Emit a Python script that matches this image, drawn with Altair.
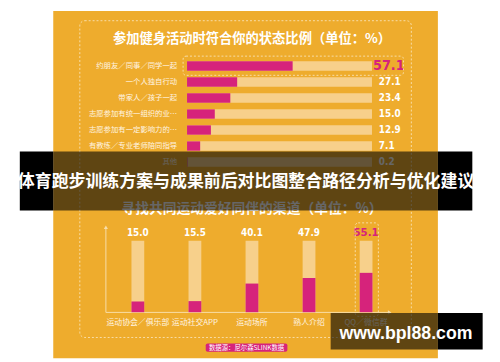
import altair as alt
import pandas as pd

# ---------------- data ----------------
status_cats = ["约朋友／同事／同学一起", "一个人独自行动", "带家人／孩子一起",
               "志愿参加有统一组织的业…", "志愿参加有一定影响力的…",
               "有教练／专业老师陪同指导", "其他"]
status_vals = [57.1, 27.1, 23.4, 15.0, 12.9, 7.1, 0.2]

channel_cats = ["运动协会／俱乐部", "运动社交APP", "运动场所", "熟人介绍", "QQ／微信群"]
channel_vals = [15.0, 15.5, 40.1, 47.9, 55.1]

title_top = "参加健身活动时符合你的状态比例（单位：%）"
title_bottom = "寻找共同运动爱好同伴的渠道（单位：%）"
banner = "体育跑步训练方案与成果前后对比图整合路径分析与优化建议"
watermark = "www.bpl88.com"
source = "数据源：尼尔森SLINK数据"

# ---------------- style ----------------
ORANGE = "#EEAC2D"
TRACK = "#F7D08B"
MAGENTA = "#D6237B"
CREAM = "#F8DDA8"
LABEL = "#FFF4E2"
CJK = "Noto Sans CJK SC"
NUM = "'DejaVu Sans Condensed', 'Roboto', sans-serif"

OFF = 8
def P(v):
    return v - OFF

status_df = pd.DataFrame({"cat": status_cats, "val": status_vals})
channel_df = pd.DataFrame({"cat": channel_cats, "val": channel_vals})
deco = alt.Chart(pd.DataFrame({"d": [0]}))


def rect(x1, x2, y1, y2, **kw):
    return deco.mark_rect(**kw).encode(
        x=alt.value(P(x1)), x2=alt.value(P(x2)),
        y=alt.value(P(y1)), y2=alt.value(P(y2)))


def label(txt, x, y, **kw):
    return deco.mark_text(text=txt, **kw).encode(x=alt.value(P(x)), y=alt.value(P(y)))


# ---------------- background ----------------
panel = deco.mark_rect(color=ORANGE).encode(
    x=alt.value(P(54)), x2=alt.value(P(445)), y=alt.value(0), y2=alt.value(P(361)))
outer_box = rect(81, 418, 18, 340, fillOpacity=0, stroke=CREAM, strokeDash=[2, 2],
                 strokeWidth=1, cornerRadius=5)
t_top = label(title_top, 256, 37, font=CJK, fontSize=13.5, fontWeight="bold",
              color="white", align="center", baseline="middle")

# ---------------- top chart (horizontal bars) ----------------
xs = alt.Scale(domain=[0, 100], range=[P(190), P(378)], nice=False, zero=True)
ys = alt.Scale(domain=status_cats, range=[P(55.9), P(169.8)], paddingInner=0, paddingOuter=0)
base_t = alt.Chart(status_df)
yenc = alt.Y("cat:N", scale=ys, sort=status_cats, axis=None)

t_track = base_t.mark_bar(height=9.5, color=TRACK).transform_calculate(full="100").encode(
    x=alt.X("full:Q", scale=xs, axis=None), y=yenc)
t_bar = base_t.mark_bar(height=9.5, color=MAGENTA).encode(
    x=alt.X("val:Q", scale=xs, axis=None), y=yenc)
t_cat = base_t.mark_text(align="right", baseline="middle", font=CJK, fontSize=7.5,
                         color=LABEL).encode(x=alt.value(P(180)), y=yenc, text="cat:N")
t_val = base_t.transform_filter(alt.datum.cat != status_cats[0]).mark_text(
    align="left", baseline="middle", font=NUM, fontSize=10, fontWeight="bold",
    color="white").encode(x=alt.value(P(385)), y=yenc, text=alt.Text("val:Q", format=".1f"))
t_val_hl = base_t.transform_filter(alt.datum.cat == status_cats[0]).mark_text(
    align="left", baseline="middle", font=NUM, fontSize=14.5, fontWeight="bold",
    color=MAGENTA).encode(x=alt.value(P(379)), y=yenc, text=alt.Text("val:Q", format=".1f"))
top_chart = alt.layer(t_track, t_bar, t_cat, t_val, t_val_hl)
top_hl_box = rect(186, 410, 54, 73.5, fillOpacity=0, stroke=CREAM, strokeDash=[2, 2],
                  strokeWidth=1, cornerRadius=3)

# ---------------- bottom chart (vertical bars) ----------------
t_bot = label(title_bottom, 256, 209, font=CJK, fontSize=14, fontWeight="bold",
              color="white", align="center", baseline="middle")
bx = alt.Scale(domain=channel_cats, range=[P(111), P(401)], paddingInner=0, paddingOuter=0)
by = alt.Scale(domain=[0, 100], range=[P(314.3), P(241.7)], nice=False, zero=True)
base_b = alt.Chart(channel_df)
xenc = alt.X("cat:N", scale=bx, sort=channel_cats, axis=None)

b_track = base_b.mark_bar(width=13, color=TRACK).transform_calculate(full="100").encode(
    x=xenc, y=alt.Y("full:Q", scale=by, axis=None))
b_bar = base_b.mark_bar(width=13, color=MAGENTA).encode(
    x=xenc, y=alt.Y("val:Q", scale=by, axis=None))
b_val = base_b.transform_filter(alt.datum.cat != channel_cats[-1]).mark_text(
    align="center", baseline="middle", font=NUM, fontSize=10, fontWeight="bold",
    color="white").encode(x=xenc, y=alt.value(P(234)), text=alt.Text("val:Q", format=".1f"))
b_val_hl = base_b.transform_filter(alt.datum.cat == channel_cats[-1]).mark_text(
    align="center", baseline="middle", font=NUM, fontSize=11.5, fontWeight="bold",
    color=MAGENTA).encode(x=xenc, y=alt.value(P(233.5)), text=alt.Text("val:Q", format=".1f"))
b_cat = base_b.mark_text(align="center", baseline="middle", font=CJK, fontSize=8,
                         color=LABEL).encode(x=xenc, y=alt.value(P(325.5)), text="cat:N")
bottom_chart = alt.layer(b_track, b_bar, b_val, b_val_hl, b_cat)

axis_v = deco.mark_rule(color=CREAM, strokeWidth=1).encode(
    x=alt.value(P(107.5)), y=alt.value(P(229)), y2=alt.value(P(314.5)))
axis_h = deco.mark_rule(color=CREAM, strokeWidth=1).encode(
    x=alt.value(P(107.5)), x2=alt.value(P(395)), y=alt.value(P(314.5)))
arrow_up = deco.mark_point(shape="triangle-up", filled=True, size=18, color=CREAM, opacity=1).encode(
    x=alt.value(P(107.5)), y=alt.value(P(228)))
arrow_r = deco.mark_point(shape="triangle-right", filled=True, size=18, color=CREAM, opacity=1).encode(
    x=alt.value(P(396)), y=alt.value(P(314.5)))
bot_hl_box = rect(361, 384.5, 223.5, 318.5, fillOpacity=0, stroke=CREAM, strokeDash=[2, 2],
                  strokeWidth=1, cornerRadius=3)

badge = rect(209, 292, 346, 354.5, color=MAGENTA, cornerRadius=2)
badge_t = label(source, 250.5, 350.3, font=CJK, fontSize=6.5, color="white",
                align="center", baseline="middle")

# ---------------- overlays ----------------
ov1 = [rect(20, 54, 151, 211, color="black"),
       rect(445, 480, 151, 211, color="black"),
       rect(54, 445, 151, 211, color="black", opacity=0.6)]
ov1_t = label(banner, 250, 182, font=CJK, fontSize=17.2, fontWeight="bold",
              color="white", align="center", baseline="middle")
ov2 = [rect(445, 490.5, 315, 352.3, color="black"),
       rect(336, 445, 315, 352.3, color="black", opacity=0.6)]
ov2_t = label(watermark, 412.5, 336.5, font="Liberation Sans", fontSize=18,
              fontWeight="bold", color="white", align="center", baseline="middle")

chart = alt.layer(
    panel, outer_box, t_top, top_chart, top_hl_box,
    t_bot, axis_v, axis_h, arrow_up, arrow_r, bottom_chart, bot_hl_box,
    badge, badge_t,
    *ov1, ov1_t, *ov2, ov2_t,
).resolve_scale(x="independent", y="independent").properties(
    width=492, height=354, autosize=alt.AutoSizeParams(type="none"), padding=0,
    background="white",
).configure_view(strokeWidth=0)

chart.save("out.html", embed_options={"renderer": "svg", "actions": False})
